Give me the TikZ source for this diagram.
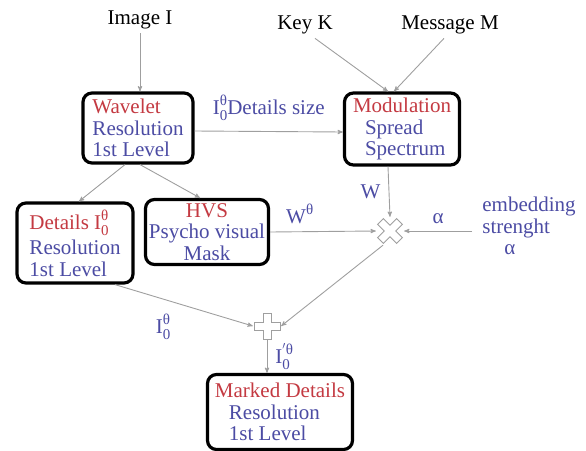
\documentclass[tikz,border=0pt]{standalone}
\usepackage{fontspec}
\setmainfont{Liberation Serif}
\usepackage{tikz}
\usetikzlibrary{arrows,positioning}
\definecolor{redtxt}{RGB}{196,58,66}
\definecolor{bluetxt}{RGB}{76,76,164}
% I with sub 0 and sup theta
\newcommand{\Izt}[1][]{I\rlap{\raisebox{9pt}{\fontsize{15}{15}\selectfont #1θ}}\raisebox{-6pt}{\fontsize{15}{15}\selectfont 0}}
\tikzset{
    blockbox/.style={draw, line width=3.2pt, rounded corners=9pt, fill=white, inner sep=2pt},
    arr/.style={->, >=stealth', gray!75, line width=0.9pt},
    lbl/.style={text=bluetxt, inner sep=0pt},
    inlbl/.style={text=black, inner sep=0pt}
}
\begin{document}
\begin{tikzpicture}[x=1pt, y=-1pt, font=\fontsize{21}{21.5}\selectfont]
    \useasboundingbox (0,0) rectangle (586,450);
    % Inputs
    \node[inlbl] (img) at (140,20) {Image I};
    \node[inlbl] (key) at (305,25) {Key K};
    \node[inlbl] (msg) at (450,25) {Message M};

    % Blocks
    \node[blockbox, minimum width=110pt, minimum height=70pt, align=left] (wav) at (138,128) {
        \textcolor{redtxt}{Wavelet}\\
        \textcolor{bluetxt}{Resolution}\\
        \textcolor{bluetxt}{1st\ Level}
    };
    \node[blockbox, minimum width=115pt, minimum height=72pt, align=left] (mod) at (402,129) {
        \textcolor{redtxt}{Modulation}\\
        \hspace{12pt}\textcolor{bluetxt}{Spread}\\
        \hspace{12pt}\textcolor{bluetxt}{Spectrum}
    };
    \node[blockbox, minimum width=116pt, minimum height=80pt, align=left] (det) at (75,243) {
        \textcolor{redtxt}{Details \Izt}\\[4pt]
        \textcolor{bluetxt}{Resolution}\\
        \textcolor{bluetxt}{1st\ Level}
    };
    \node[blockbox, minimum width=123pt, minimum height=65pt, align=center] (hvs) at (207,232) {
        \textcolor{redtxt}{HVS}\\
        \textcolor{bluetxt}{Psycho visual}\\
        \textcolor{bluetxt}{Mask}
    };
    \node[blockbox, minimum width=145pt, minimum height=75pt, align=left] (mark) at (280,412) {
        \textcolor{redtxt}{Marked Details}\\
        \hspace{14pt}\textcolor{bluetxt}{Resolution}\\
        \hspace{14pt}\textcolor{bluetxt}{1st\ Level}
    };

    % Operators
    \node[minimum size=28pt, inner sep=0pt] (mul) at (390,231) {};
    \draw[gray!75, line width=0.9pt, fill=white, rotate around={45:(mul.center)}]
        (mul.center) ++(4,13.5) -- ++(0,-9.5) -- ++(9.5,0) -- ++(0,-8) -- ++(-9.5,0) -- ++(0,-9.5)
        -- ++(-8,0) -- ++(0,9.5) -- ++(-9.5,0) -- ++(0,8) -- ++(9.5,0) -- ++(0,9.5) -- cycle;
    \node[minimum size=28pt, inner sep=0pt] (add) at (267,326) {};
    \draw[gray!75, line width=0.9pt, fill=white]
        (add.center) ++(4,13) -- ++(0,-9) -- ++(9,0) -- ++(0,-8) -- ++(-9,0) -- ++(0,-9)
        -- ++(-8,0) -- ++(0,9) -- ++(-9,0) -- ++(0,8) -- ++(9,0) -- ++(0,9) -- cycle;

    % Strength
    \node[lbl, align=left] (emb) at (529,226) {embedding\\strenght\\\hspace{22pt}α};

    % Connectors
    \draw[arr] (img.south) ++(0,4) -- (wav.north -| img.south);
    \draw[arr] ([xshift=10pt,yshift=-4pt]key.south) -- ([xshift=-14pt]mod.north);
    \draw[arr] ([xshift=-6pt,yshift=-4pt]msg.south) -- ([xshift=-8pt]mod.north);
    \draw[arr] ([yshift=-3pt]wav.east) -- node[lbl, above=10pt] {\Izt Details size} ([yshift=-3pt]mod.west);
    \draw[arr] ([xshift=-13pt]wav.south) -- ([xshift=4pt]det.north);
    \draw[arr] ([xshift=2pt]wav.south) -- ([xshift=-7pt]hvs.north);
    \draw[arr] ([xshift=-14pt]mod.south) -- node[lbl, left=8pt] {W} (mul.north);
    \draw[arr] (hvs.east) -- node[lbl, above=7pt, pos=0.28] {W\raisebox{9pt}{\fontsize{15}{15}\selectfont θ}} (mul.west);
    \draw[arr] (emb.west |- mul.east) ++(-10,0) -- node[lbl, above=7pt] {α} (mul.east);
    \draw[arr] ([xshift=40pt]det.south) -- node[lbl, below=14pt, pos=0.35] {\Izt} (add.west);
    \draw[arr] ([xshift=-7pt]mul.south) -- (add.east);
    \draw[arr] (add.south) -- node[lbl, right=8pt] {\Izt[$'$]} (mark.north -| add.south);
\end{tikzpicture}
\end{document}
